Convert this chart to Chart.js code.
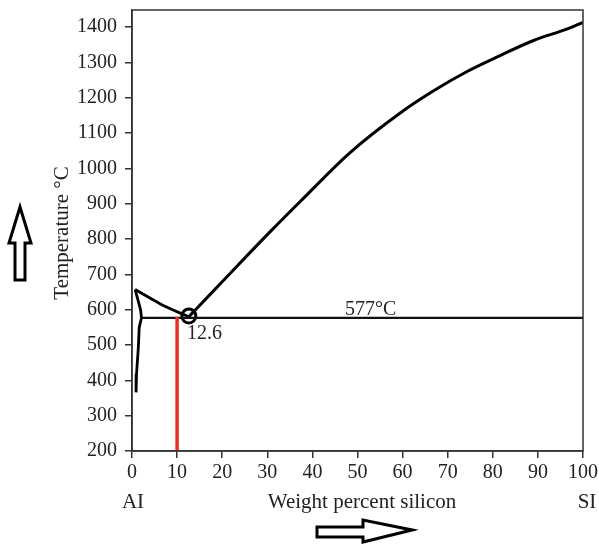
<!DOCTYPE html>
<html>
<head>
<meta charset="utf-8">
<script src="https://cdn.jsdelivr.net/npm/chart.js@4/dist/chart.umd.min.js"></script>
<style>
  html, body { margin: 0; padding: 0; background: #fff; }
  #wrap { width: 599px; height: 546px; }
</style>
</head>
<body>
<div id="wrap"><canvas id="phaseChart" width="599" height="546"></canvas></div>
<script>
// ---- data ----
var siLiquidusX = [12.6, 14.4, 20, 26.2, 30.6, 37.3, 48.3, 59.4, 66.7, 74.3, 81.6, 88.9, 96.4, 100];
var siLiquidusT = [580, 604, 679, 762, 820, 906, 1044, 1156, 1218, 1274, 1319, 1361, 1394, 1413];
var alLiquidusX = [0.7, 6.2, 11.1, 12.6];
var alLiquidusT = [657, 617, 588, 580];
var alSolidusX = [0.7, 1.9, 2.1, 1.6, 1.4, 1.0, 0.9];
var alSolidusT = [657, 600, 577, 549, 492, 418, 366];
var eutecticX = [1.9, 100];
var eutecticT = [577, 577];
var markerX = [10, 10];
var markerT = [200, 580];
var eutecticPoint = [12.6, 582];
var xTicks = [0, 10, 20, 30, 40, 50, 60, 70, 80, 90, 100];
var yTicks = [200, 300, 400, 500, 600, 700, 800, 900, 1000, 1100, 1200, 1300, 1400];

var SERIF = "'Liberation Serif', 'DejaVu Serif', serif";
var INK = '#222';

function pts(xs, ys) {
    return xs.map(function (x, i) { return { x: x, y: ys[i] }; });
}

function line(data, color, width, smooth) {
    return {
        data: data,
        showLine: true,
        borderColor: color,
        borderWidth: width,
        pointRadius: 0,
        tension: smooth ? 0.4 : 0,
        cubicInterpolationMode: smooth ? 'monotone' : 'default',
        fill: false
    };
}

// texts, frame and the two hollow arrows
var decorations = {
    id: 'decorations',
    afterDraw: function (chart) {
        var c = chart.ctx, a = chart.chartArea;
        var xs = chart.scales.x, ys = chart.scales.y;
        c.save();
        // frame (top + right)
        c.strokeStyle = '#333';
        c.lineWidth = 1.5;
        c.strokeRect(a.left, a.top, a.right - a.left, a.bottom - a.top);

        c.fillStyle = INK;
        c.font = '20px ' + SERIF;
        c.textAlign = 'center';
        c.textBaseline = 'middle';
        c.fillText('577°C', xs.getPixelForValue(52.9), ys.getPixelForValue(601));
        c.fillText('12.6', xs.getPixelForValue(16.1), ys.getPixelForValue(532));

        c.font = '21px ' + SERIF;
        c.fillText('AI', 133, 502);
        c.fillText('Weight percent silicon', 362, 502);
        c.fillText('SI', 587, 502);

        c.save();
        c.translate(62, 233);
        c.rotate(-Math.PI / 2);
        c.fillText('Temperature °C', 0, 0);
        c.restore();

        // arrows
        c.strokeStyle = '#000';
        c.lineWidth = 3;
        c.lineJoin = 'miter';
        c.beginPath();
        c.moveTo(20, 207); c.lineTo(31, 243); c.lineTo(25, 243); c.lineTo(25, 280);
        c.lineTo(15, 280); c.lineTo(15, 243); c.lineTo(9, 243); c.closePath();
        c.stroke();

        c.beginPath();
        c.moveTo(412, 530); c.lineTo(363, 542); c.lineTo(363, 537); c.lineTo(317, 537);
        c.lineTo(317, 527); c.lineTo(363, 527); c.lineTo(363, 520); c.closePath();
        c.stroke();
        c.restore();
    }
};

new Chart(document.getElementById('phaseChart').getContext('2d'), {
    type: 'scatter',
    data: {
        datasets: [
            line(pts(markerX, markerT), '#e2321f', 3.5),
            line(pts(eutecticX, eutecticT), '#111', 2.2),
            line(pts(siLiquidusX, siLiquidusT), '#000', 3, true),
            line(pts(alLiquidusX, alLiquidusT), '#000', 2.8, true),
            line(pts(alSolidusX, alSolidusT), '#000', 2.8, false),
            {
                data: [{ x: eutecticPoint[0], y: eutecticPoint[1] }],
                pointRadius: 7,
                pointBorderWidth: 3,
                pointBorderColor: '#000',
                pointBackgroundColor: 'rgba(0,0,0,0)',
                showLine: false
            }
        ]
    },
    options: {
        responsive: false,
        animation: false,
        layout: { padding: { top: 4, right: 16, left: 0, bottom: 0 } },
        plugins: { legend: { display: false }, tooltip: { enabled: false } },
        scales: {
            x: {
                type: 'linear',
                min: 0,
                max: 100,
                afterFit: function (s) {
                    s.height = 95;
                    s.paddingLeft = 0;
                    s.paddingRight = 0;
                },
                afterBuildTicks: function (s) { s.ticks = xTicks.map(function (v) { return { value: v }; }); },
                border: { color: '#333', width: 1.5 },
                grid: { drawOnChartArea: false, drawTicks: true, tickLength: 7, color: '#333', lineWidth: 1.5 },
                ticks: {
                    color: INK, font: { family: SERIF, size: 20 }, padding: 3, maxRotation: 0,
                    callback: function (v) { return String(v); }
                }
            },
            y: {
                type: 'linear',
                min: 200,
                max: 1448,
                afterFit: function (s) {
                    s.width = 132;
                    s.paddingTop = 0;
                    s.paddingBottom = 0;
                },
                afterBuildTicks: function (s) { s.ticks = yTicks.map(function (v) { return { value: v }; }); },
                border: { color: '#333', width: 1.5 },
                grid: { drawOnChartArea: false, drawTicks: true, tickLength: 7, color: '#333', lineWidth: 1.5 },
                ticks: {
                    color: INK, font: { family: SERIF, size: 20 }, padding: 8,
                    callback: function (v) { return String(v); }
                }
            }
        }
    },
    plugins: [decorations]
});
</script>
</body>
</html>
